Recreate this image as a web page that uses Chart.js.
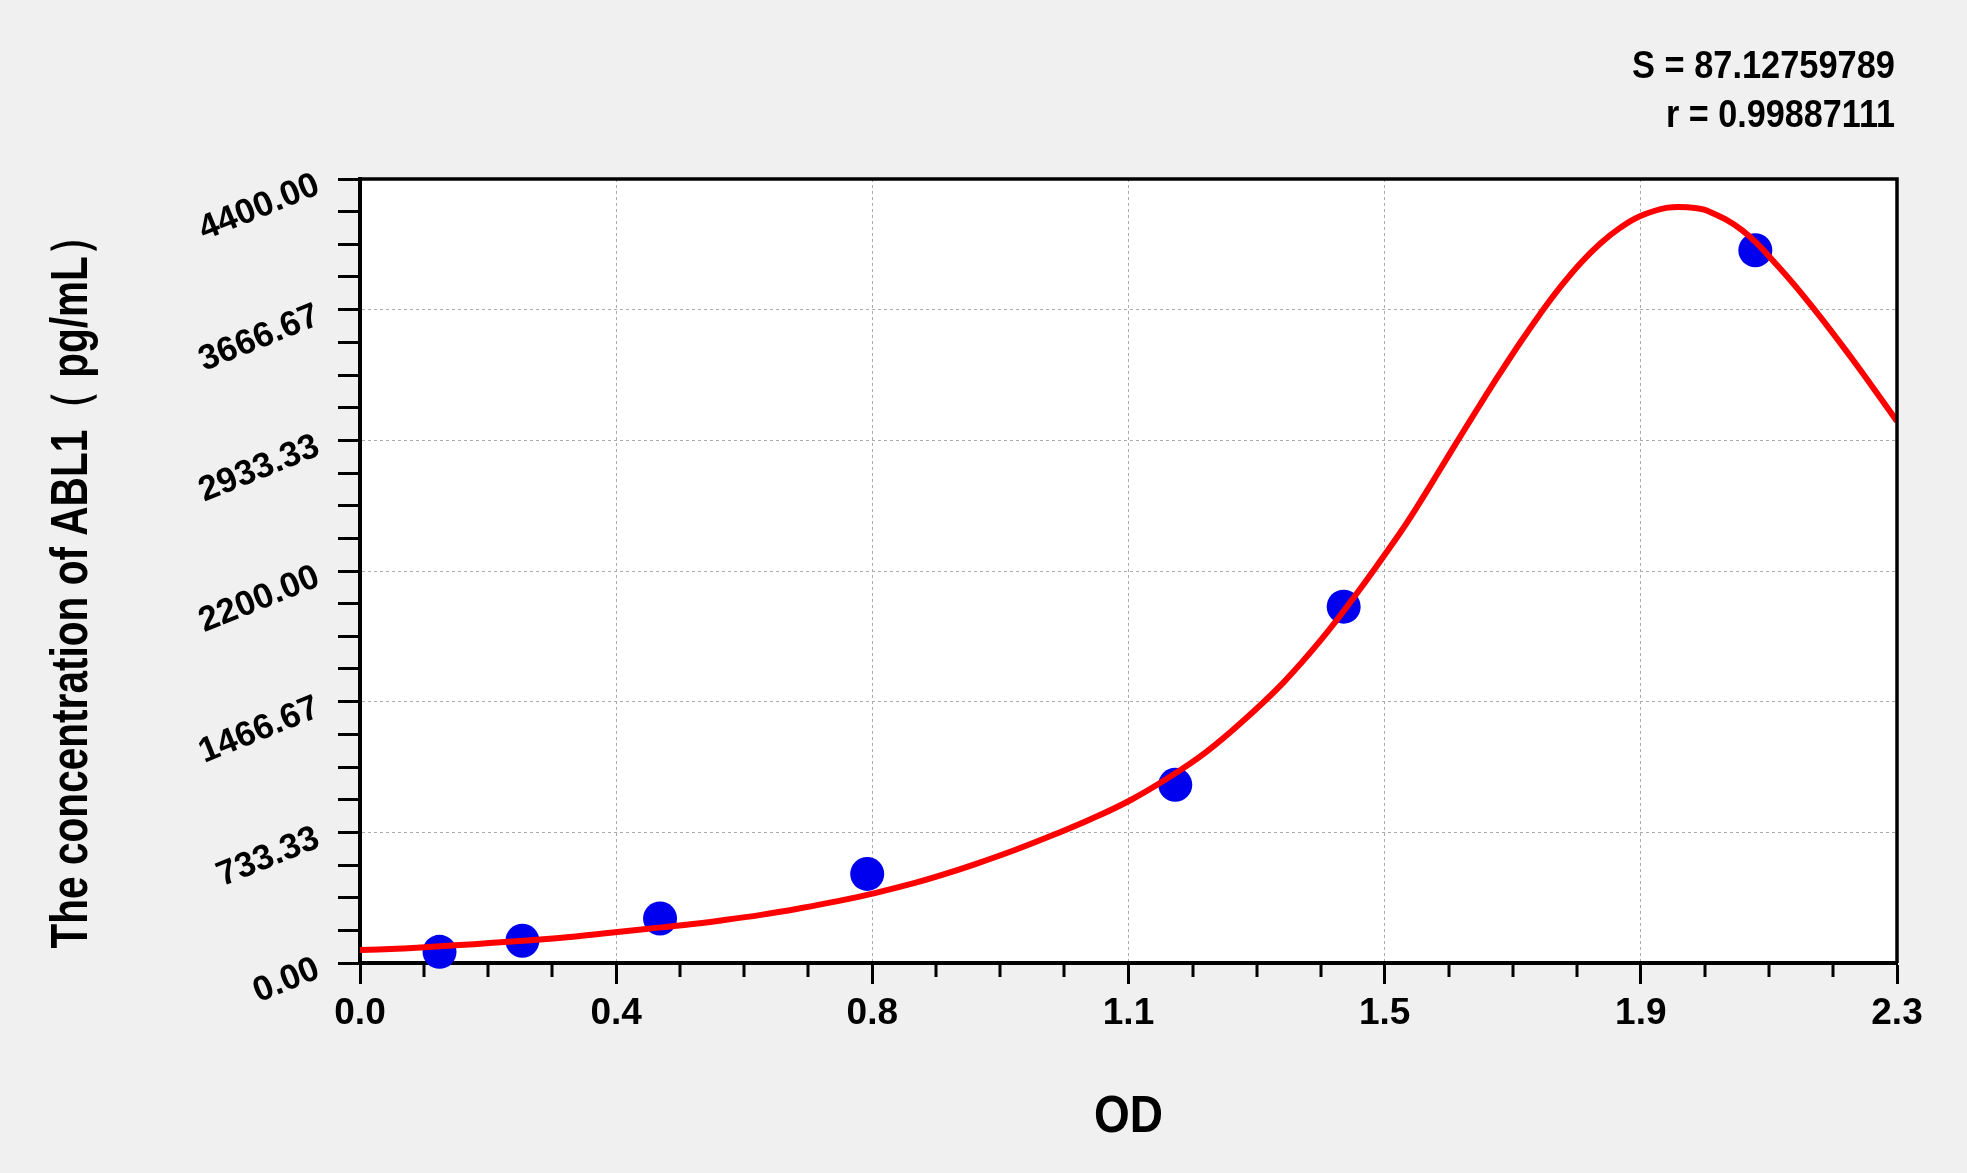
<!DOCTYPE html>
<html>
<head>
<meta charset="utf-8">
<title>ABL1 standard curve</title>
<script src="https://cdn.jsdelivr.net/npm/chart.js@4.4.1/dist/chart.umd.min.js"></script>
<style>
  html, body { margin: 0; padding: 0; background: #f0f0f0; }
  canvas { display: block; }
</style>
</head>
<body>
<canvas id="curve" width="1967" height="1173"></canvas>
<script>
// standards (OD vs concentration)
const odValues = [0.119, 0.243, 0.449, 0.759, 1.220, 1.472, 2.088];
const concValues = [62.5, 125, 250, 500, 1000, 2000, 4000];

// fitted curve
const fitOd = [0, 0.055, 0.085, 0.142, 0.199, 0.256, 0.314, 0.371, 0.428, 0.485,
  0.543, 0.600, 0.657, 0.715, 0.772, 0.829, 0.865, 0.923, 0.980, 1.037,
  1.094, 1.152, 1.209, 1.266, 1.323, 1.381, 1.438, 1.488, 1.556, 1.586,
  1.616, 1.646, 1.676, 1.706, 1.736, 1.766, 1.796, 1.826, 1.856, 1.886,
  1.916, 1.955, 1.990, 2.016, 2.069, 2.123, 2.176, 2.230, 2.284, 2.300];
const fitConc = [73, 80, 86, 99, 113, 128, 146, 168, 191, 213,
  240, 270, 306, 347, 394, 448, 487, 558, 634, 718,
  808, 912, 1038, 1184, 1364, 1571, 1813, 2055, 2412, 2585,
  2768, 2952, 3133, 3310, 3481, 3643, 3793, 3926, 4038, 4127,
  4192, 4238, 4240, 4222, 4110, 3906, 3670, 3405, 3125, 3040];

// axis ticks
const xTicks = [0, 0.38333, 0.76667, 1.15, 1.53333, 1.91667, 2.3];
const xTickLabels = ['0.0', '0.4', '0.8', '1.1', '1.5', '1.9', '2.3'];
const yTicks = [0, 733.33, 1466.67, 2200, 2933.33, 3666.67, 4400];
const yTickLabels = ['0.00', '733.33', '1466.67', '2200.00', '2933.33', '3666.67', '4400.00'];

const statLines = ['S = 87.12759789', 'r = 0.99887111'];
const xTitle = 'OD';
const yTitle = 'The concentration of ABL1\uFF08 pg/mL\uFF09';

const FONT = "'Liberation Sans', Arial, sans-serif";

// 4 minor steps between every pair of major ticks
function withMinor(major) {
  const out = [];
  for (let i = 0; i < major.length - 1; i++) {
    const step = (major[i + 1] - major[i]) / 4;
    for (let k = 0; k < 4; k++) out.push(major[i] + step * k);
  }
  out.push(major[major.length - 1]);
  return out;
}
const xAll = withMinor(xTicks);
const yAll = withMinor(yTicks);

// draws text squeezed to a given width
function fitText(ctx, text, x, y, width) {
  const w = ctx.measureText(text).width;
  ctx.save();
  ctx.translate(x, y);
  ctx.scale(width / w, 1);
  ctx.fillText(text, 0, 0);
  ctx.restore();
}

const decor = {
  id: 'decor',
  beforeDraw(chart) {
    const { ctx, chartArea: a } = chart;
    ctx.save();
    ctx.fillStyle = '#f0f0f0';
    ctx.fillRect(0, 0, chart.width, chart.height);
    ctx.fillStyle = '#ffffff';
    ctx.fillRect(a.left, a.top, a.right - a.left, a.bottom - a.top);
    ctx.restore();
  },
  afterDraw(chart) {
    const { ctx, chartArea: a } = chart;
    const xs = chart.scales.x;
    const ys = chart.scales.y;
    ctx.save();

    // top and right edges of the box
    ctx.strokeStyle = '#000';
    ctx.lineWidth = 3.5;
    ctx.beginPath();
    ctx.moveTo(a.left, a.top);
    ctx.lineTo(a.right, a.top);
    ctx.lineTo(a.right, a.bottom);
    ctx.stroke();

    // short minor ticks under the x axis
    ctx.lineWidth = 3;
    xAll.forEach((v, i) => {
      if (i % 4 === 0) return;
      const px = Math.round(xs.getPixelForValue(v));
      ctx.beginPath();
      ctx.moveTo(px, a.bottom);
      ctx.lineTo(px, a.bottom + 14);
      ctx.stroke();
    });

    // slanted y tick labels
    ctx.fillStyle = '#000';
    ctx.font = 'bold 35px ' + FONT;
    ctx.textAlign = 'right';
    ctx.textBaseline = 'middle';
    yTicks.forEach((v, i) => {
      const py = ys.getPixelForValue(v);
      ctx.save();
      ctx.translate(a.left - 42, py + 5);
      ctx.rotate(-22 * Math.PI / 180);
      ctx.fillText(yTickLabels[i], 0, 0);
      ctx.restore();
    });

    // y title (condensed, vertical)
    ctx.font = 'bold 52px ' + FONT;
    ctx.textAlign = 'center';
    ctx.textBaseline = 'middle';
    ctx.save();
    ctx.translate(73, 582);
    ctx.rotate(-Math.PI / 2);
    fitText(ctx, yTitle, 0, 0, 733);
    ctx.restore();

    // x title
    ctx.font = 'bold 52px ' + FONT;
    ctx.textAlign = 'center';
    ctx.textBaseline = 'alphabetic';
    fitText(ctx, xTitle, (a.left + a.right) / 2, 1132, 69);

    // fit statistics, top right
    ctx.font = 'bold 39px ' + FONT;
    ctx.textAlign = 'right';
    fitText(ctx, statLines[0], 1895, 78, 263);
    fitText(ctx, statLines[1], 1895, 127, 229);

    ctx.restore();
  }
};

new Chart(document.getElementById('curve'), {
  type: 'scatter',
  data: {
    datasets: [
      {
        type: 'line',
        label: 'fit',
        data: fitOd.map((x, i) => ({ x, y: fitConc[i] })),
        borderColor: '#ff0000',
        borderWidth: 6,
        pointRadius: 0,
        fill: false,
        tension: 0.4,
        order: 0
      },
      {
        label: 'standards',
        data: odValues.map((x, i) => ({ x, y: concValues[i] })),
        backgroundColor: '#0000ee',
        borderWidth: 0,
        pointRadius: 17,
        clip: false,
        order: 1
      }
    ]
  },
  options: {
    responsive: false,
    devicePixelRatio: 1,
    animation: false,
    layout: { padding: { top: 179, right: 70, left: 0, bottom: 0 } },
    plugins: { legend: { display: false }, tooltip: { enabled: false } },
    scales: {
      x: {
        type: 'linear',
        min: 0,
        max: 2.3,
        afterBuildTicks: (s) => { s.ticks = xAll.map(v => ({ value: v })); },
        afterFit: (s) => { s.height = 210; },
        ticks: {
          autoSkip: false,
          maxRotation: 0,
          minRotation: 0,
          padding: 8,
          color: '#000',
          font: { family: FONT, size: 37, weight: 'bold' },
          callback: (v, i) => (i % 4 === 0 ? xTickLabels[i / 4] : '')
        },
        grid: {
          color: (c) => (c.index % 4 === 0 ? '#ababab' : 'rgba(0,0,0,0)'),
          lineWidth: 1,
          tickColor: (c) => (c.index % 4 === 0 ? '#000' : 'rgba(0,0,0,0)'),
          tickLength: 21,
          tickWidth: 3
        },
        border: { display: true, color: '#000', width: 4, dash: [3, 3] }
      },
      y: {
        type: 'linear',
        min: 0,
        max: 4400,
        afterBuildTicks: (s) => { s.ticks = yAll.map(v => ({ value: v })); },
        afterFit: (s) => { s.width = 360; },
        ticks: { display: false },
        grid: {
          color: (c) => (c.index % 4 === 0 ? '#ababab' : 'rgba(0,0,0,0)'),
          lineWidth: 1,
          tickColor: '#000',
          tickLength: 22,
          tickWidth: 3
        },
        border: { display: true, color: '#000', width: 4, dash: [3, 3] }
      }
    }
  },
  plugins: [decor]
});
</script>
</body>
</html>
